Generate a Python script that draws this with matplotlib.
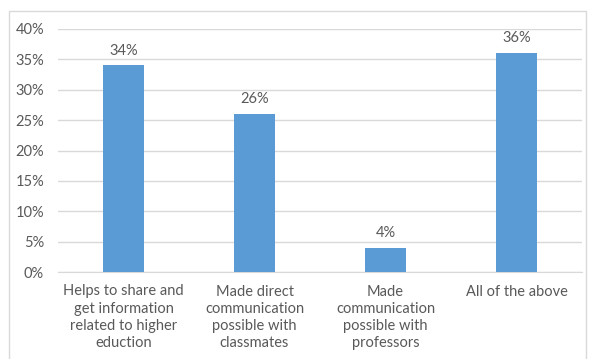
import matplotlib.pyplot as plt
from matplotlib.patches import Rectangle

plt.rcParams['font.family'] = ['Lato', 'DejaVu Sans']

categories = ["Helps to share and\nget information\nrelated to higher\neduction",
              "Made direct\ncommunication\npossible with\nclassmates",
              "Made\ncommunication\npossible with\nprofessors",
              "All of the above"]
values = [34, 26, 4, 36]
yticks = [0, 5, 10, 15, 20, 25, 30, 35, 40]

txt = '#595959'
fs = 10.5
fig = plt.figure(figsize=(5.89, 3.59), dpi=100)
ax = fig.add_axes([58/589, 1-272/359, 524/589, 243/359])

x = range(len(values))
bars = ax.bar(x, values, width=0.31, color='#5B9BD5', zorder=3)
for b, v in zip(bars, values):
    ax.text(b.get_x() + b.get_width()/2, v + 1.3, f"{v}%", ha='center', va='bottom',
            fontsize=fs, color=txt)

ax.set_ylim(0, 40)
ax.set_xlim(-0.5, len(values) - 0.5)
ax.set_yticks(yticks)
ax.set_yticklabels([f"{t}%" for t in yticks], fontsize=fs, color=txt)
ax.set_xticks(list(x))
ax.set_xticklabels(categories, fontsize=fs, color=txt, va='top', linespacing=1.3)
ax.tick_params(axis='x', length=0, pad=9)
ax.tick_params(axis='y', length=0, pad=10)
ax.yaxis.grid(True, color='#D9D9D9', linewidth=1, zorder=0)
for s in ['top', 'right', 'left']:
    ax.spines[s].set_visible(False)
ax.spines['bottom'].set_color('#D9D9D9')

fig.patches.append(Rectangle((9/589, -0.05), 577/589, 1.05 - 11/359, transform=fig.transFigure,
                             fill=False, edgecolor='#D9D9D9', linewidth=1))

fig.savefig('out.png', dpi=100)
